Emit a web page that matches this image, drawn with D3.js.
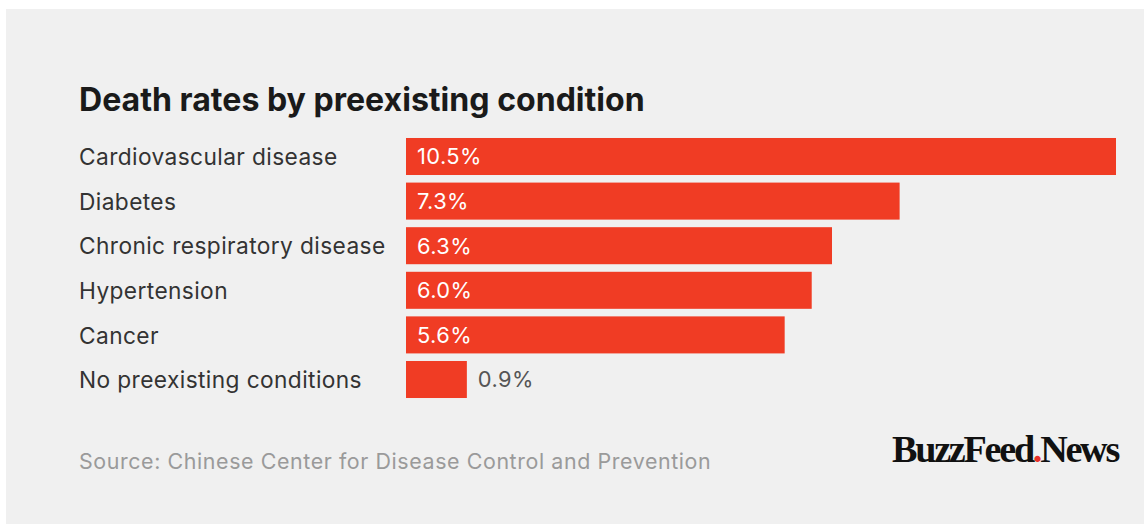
<!DOCTYPE html>
<html><head><meta charset="utf-8">
<script src="https://cdn.jsdelivr.net/npm/d3@7"></script>
<style>
html,body{margin:0;padding:0;background:#fff;}
svg{display:block;}
</style></head>
<body>
<svg id="chart" width="1144" height="525"></svg>
<script>
const categories = ["Cardiovascular disease","Diabetes","Chronic respiratory disease","Hypertension","Cancer","No preexisting conditions"];
const values = [10.5, 7.3, 6.3, 6.0, 5.6, 0.9];
const valueLabels = ["10.5%","7.3%","6.3%","6.0%","5.6%","0.9%"];
const title = "Death rates by preexisting condition";
const source = "Source: Chinese Center for Disease Control and Prevention";

const svg = d3.select("#chart");
svg.append("rect").attr("x",6).attr("y",9).attr("width",1138).attr("height",515).attr("fill","#f0f0f0");

const x = d3.scaleLinear().domain([0,10.5]).range([406,1116]);
const y = d3.scaleBand().domain(categories).range([134.2,401.8]).paddingInner(0.17).paddingOuter(0.085);

const font = "Inter, 'Noto Sans', sans-serif";

// scale font size of a single text so that it spans a target width
function fitSize(node, target) {
  const fs = parseFloat(node.getAttribute("font-size"));
  const w = node.getComputedTextLength();
  return fs * target / w;
}

const t = svg.append("text").attr("x",79).attr("y",111).text(title)
  .attr("font-family",font).attr("font-weight",700).attr("font-size",28).attr("fill","#1a1a1a");
t.attr("font-size", fitSize(t.node(), 566));

const cats = svg.selectAll("text.cat").data(categories).join("text").attr("class","cat")
  .attr("x",79).attr("y",d=>y(d)+y.bandwidth()/2).attr("dy","0.38em")
  .attr("font-family",font).attr("font-size",20).attr("fill","#333").attr("letter-spacing",0.4)
  .text(d=>d);
const catSize = fitSize(cats.nodes()[0], 260);
cats.attr("font-size", catSize);

svg.selectAll("rect.bar").data(values).join("rect").attr("class","bar")
  .attr("x",x(0)).attr("y",(d,i)=>y(categories[i]))
  .attr("width",d=>x(d)-x(0)).attr("height",y.bandwidth())
  .attr("fill","#f03c24");

const vals = svg.selectAll("text.val").data(values).join("text").attr("class","val")
  .attr("x",(d,i)=> d<2 ? x(d)+11 : x(0)+11)
  .attr("y",(d,i)=>y(categories[i])+y.bandwidth()/2).attr("dy","0.36em")
  .attr("font-family",font).attr("font-size",20).attr("letter-spacing",0.4)
  .attr("fill",d=> d<2 ? "#555" : "#fff")
  .text((d,i)=>valueLabels[i]);
vals.attr("font-size", fitSize(vals.nodes()[0], 65));

const s = svg.append("text").attr("x",79).attr("y",469).text(source)
  .attr("font-family",font).attr("font-size",19).attr("fill","#9a9a9a").attr("letter-spacing",0.6);
s.attr("font-size", fitSize(s.node(), 637));

const logo = svg.append("text").attr("x",892).attr("y",462)
  .attr("font-family","'Liberation Serif', 'DejaVu Serif', serif").attr("font-weight",700)
  .attr("font-size",37).attr("letter-spacing",-2.2).attr("fill","#111");
logo.append("tspan").text("BuzzFeed");
logo.append("tspan").attr("fill","#e8322a").text(".");
logo.append("tspan").text("News");
logo.attr("textLength",226).attr("lengthAdjust","spacingAndGlyphs");
</script>
</body></html>
